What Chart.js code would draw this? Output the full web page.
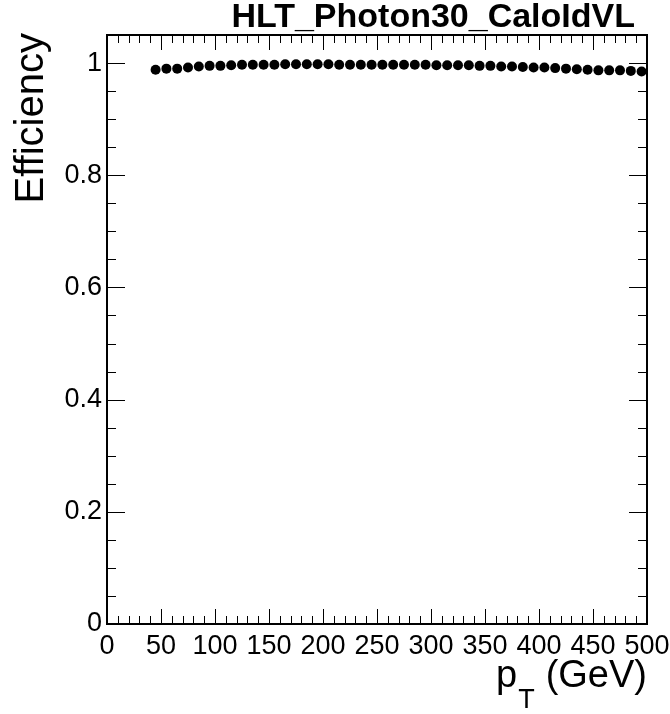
<!DOCTYPE html>
<html>
<head>
<meta charset="utf-8">
<script src="https://cdn.jsdelivr.net/npm/chart.js@4/dist/chart.umd.min.js"></script>
<style>
  html, body { margin: 0; padding: 0; background: #fff; }
  #wrap { width: 670px; height: 714px; position: relative; }
</style>
</head>
<body>
<div id="wrap"><canvas id="c"></canvas></div>
<script>
// Trigger efficiency vs photon transverse momentum (10 GeV bins)
const ptBins = [45, 55, 65, 75, 85, 95, 105, 115, 125, 135, 145, 155, 165, 175, 185, 195,
  205, 215, 225, 235, 245, 255, 265, 275, 285, 295, 305, 315, 325, 335, 345, 355,
  365, 375, 385, 395, 405, 415, 425, 435, 445, 455, 465, 475, 485, 495];
const efficiency = [0.988, 0.990, 0.990, 0.992, 0.994, 0.995, 0.995, 0.996, 0.997, 0.997,
  0.997, 0.997, 0.998, 0.998, 0.998, 0.998, 0.998, 0.997, 0.997, 0.997, 0.997, 0.997,
  0.997, 0.997, 0.997, 0.997, 0.996, 0.996, 0.996, 0.996, 0.995, 0.995, 0.994, 0.994,
  0.993, 0.992, 0.992, 0.991, 0.990, 0.989, 0.988, 0.987, 0.987, 0.987, 0.986, 0.985];
const xTickValues = [0, 50, 100, 150, 200, 250, 300, 350, 400, 450, 500];
const yTickValues = [0, 0.2, 0.4, 0.6, 0.8, 1];
const histTitle = 'HLT_Photon30_CaloIdVL';
const yTitle = 'Efficiency';

const FONT = '"Liberation Sans", Arial, Helvetica, sans-serif';

// Frame with inward ticks on all four sides, plus titles
const framePlugin = {
  id: 'rootFrame',
  afterDatasetsDraw(chart) {
    const { ctx, chartArea: a, scales: { x, y } } = chart;
    ctx.save();
    ctx.strokeStyle = '#000';
    ctx.lineWidth = 1;
    ctx.beginPath();
    // x ticks: major every 50, minor every 10
    for (let v = 0; v <= 500 + 1e-9; v += 10) {
      const px = Math.round(x.getPixelForValue(v)) + 0.5;
      const len = (v % 50 === 0) ? 15 : 8;
      ctx.moveTo(px, a.bottom); ctx.lineTo(px, a.bottom - len);
      ctx.moveTo(px, a.top); ctx.lineTo(px, a.top + len);
    }
    // y ticks: major every 0.2, minor every 0.05
    for (let i = 0; i <= 21; i++) {
      const v = i * 0.05;
      const py = Math.round(y.getPixelForValue(v)) + 0.5;
      const len = (i % 4 === 0) ? 18 : 9;
      ctx.moveTo(a.left, py); ctx.lineTo(a.left + len, py);
      ctx.moveTo(a.right, py); ctx.lineTo(a.right - len, py);
    }
    ctx.stroke();
    ctx.lineWidth = 2;
    ctx.strokeRect(a.left, a.top, a.right - a.left, a.bottom - a.top);

    ctx.fillStyle = '#000';
    // histogram title
    ctx.font = 'bold 34px ' + FONT;
    ctx.textAlign = 'right';
    ctx.textBaseline = 'alphabetic';
    ctx.fillText(histTitle, a.right - 12, 27);

    // x-axis title: p_T (GeV)
    ctx.font = '38px ' + FONT;
    ctx.textAlign = 'right';
    ctx.fillText('(GeV)', a.right, 687);
    const gevW = ctx.measureText('(GeV)').width;
    ctx.font = '27px ' + FONT;
    const tW = ctx.measureText('T').width;
    const tX = a.right - gevW - 11 - tW;
    ctx.textAlign = 'left';
    ctx.fillText('T', tX, 708);
    ctx.font = '38px ' + FONT;
    const pW = ctx.measureText('p').width;
    ctx.fillText('p', tX - pW - 1, 687);

    // y-axis title
    ctx.translate(43, a.top - 2);
    ctx.rotate(-Math.PI / 2);
    ctx.font = '40px ' + FONT;
    ctx.textAlign = 'right';
    ctx.fillText(yTitle, 0, 0);
    ctx.restore();
  }
};

new Chart(document.getElementById('c'), {
  type: 'scatter',
  data: {
    datasets: [{
      data: ptBins.map((v, i) => ({ x: v, y: efficiency[i] })),
      backgroundColor: '#000',
      borderColor: '#000',
      pointRadius: 5,
      pointHoverRadius: 5,
      borderWidth: 0
    }]
  },
  options: {
    responsive: true,
    maintainAspectRatio: false,
    animation: false,
    layout: { padding: { left: 0, top: 35, right: 23, bottom: 0 } },
    plugins: { legend: { display: false }, tooltip: { enabled: false } },
    scales: {
      x: {
        type: 'linear', min: 0, max: 500,
        grid: { display: false, drawTicks: false },
        border: { display: false },
        afterBuildTicks: s => { s.ticks = xTickValues.map(v => ({ value: v })); },
        afterFit: s => { s.height = 90; s.paddingLeft = 0; s.paddingRight = 0; },
        ticks: { color: '#000', padding: 6, maxRotation: 0, autoSkip: false,
                 font: { family: FONT, size: 27 } }
      },
      y: {
        type: 'linear', min: 0, max: 1.05,
        grid: { display: false, drawTicks: false },
        border: { display: false },
        afterBuildTicks: s => { s.ticks = yTickValues.map(v => ({ value: v })); },
        afterFit: s => { s.width = 107; s.paddingTop = 0; s.paddingBottom = 0; },
        ticks: { color: '#000', padding: 5, autoSkip: false,
                 font: { family: FONT, size: 27 },
                 callback: v => String(+v.toFixed(2)) }
      }
    }
  },
  plugins: [framePlugin]
});
</script>
</body>
</html>
